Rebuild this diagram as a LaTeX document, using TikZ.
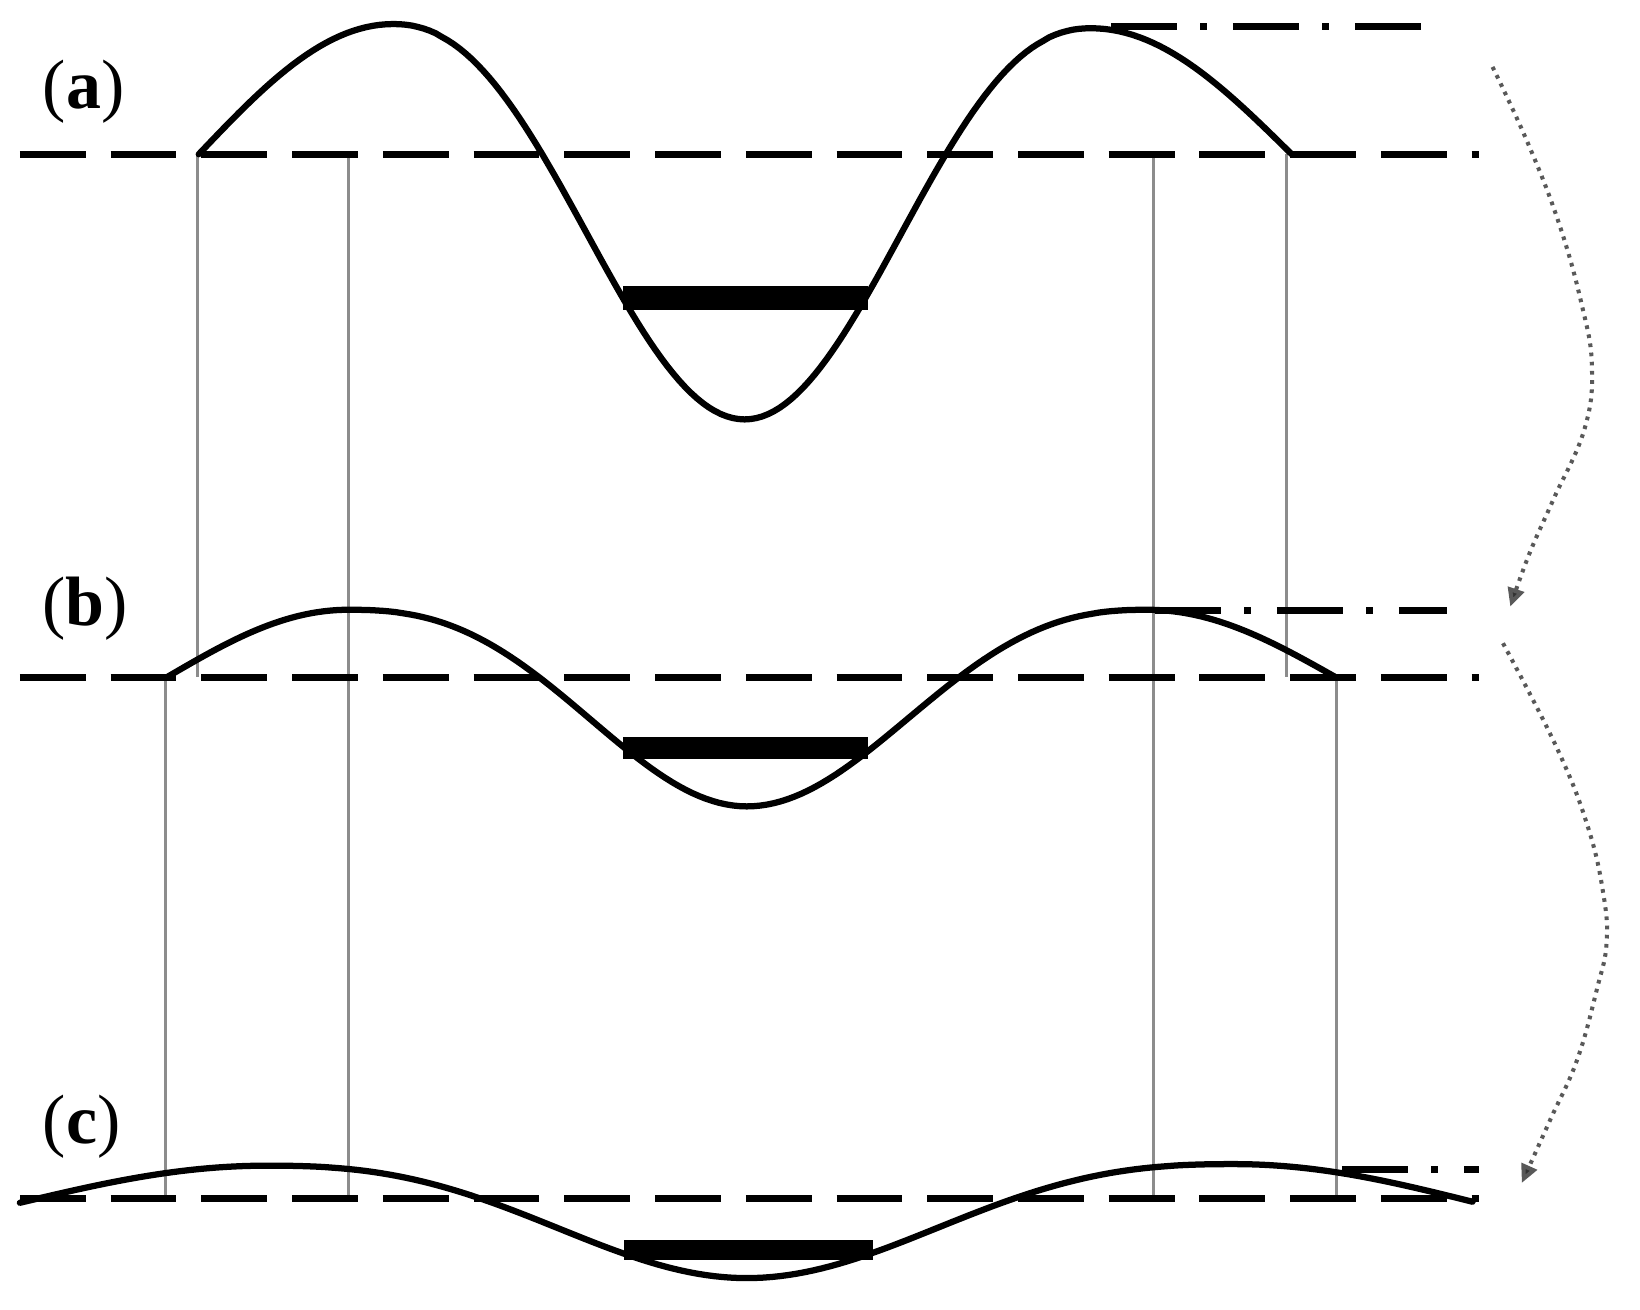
\documentclass[tikz,border=0pt]{standalone}
\usepackage{fontspec}
\setmainfont{Liberation Serif}
\usetikzlibrary{arrows.meta}
\begin{document}
\begin{tikzpicture}[x=0.01cm,y=-0.01cm,
  wave/.style={line width=1.7pt, line join=round, line cap=round},
  base/.style={line width=1.9pt, dash pattern=on 17.9pt off 6.77pt},
  peakline/.style={line width=1.9pt, dash pattern=on 17.9pt off 6.4pt on 1.8pt off 7.1pt},
  guide/.style={line width=0.8pt, draw=black!45},
  flow/.style={line width=1.1pt, draw=black!65, dash pattern=on 1pt off 1.5pt, -{Triangle[length=5pt,width=4.5pt,fill=black!80]}},
  lab/.style={anchor=base, inner sep=0pt, font=\fontsize{19}{19}\selectfont}
]
\useasboundingbox (0,0) rectangle (1568,1252);

% thin vertical guides
\draw[guide] (188.5,147.5) -- (188.5,647.5);
\draw[guide] (333,147.5) -- (333,1145.5);
\draw[guide] (1103,147.5) -- (1103,1145.5);
\draw[guide] (1230,147.5) -- (1230,647.5);
\draw[guide] (158,647.5) -- (158,1145.5);
\draw[guide] (1278,647.5) -- (1278,1145.5);

% dashed base lines
\draw[base] (19,147.5) -- (1414,147.5);
\draw[base] (19,647.5) -- (1414,647.5);
\draw[base] (19,1145.5) -- (1414,1145.5);

% dash-dot crest lines
\draw[peakline] (1062,25.5) -- (1362,25.5);
\draw[peakline] (1104,584) -- (1383,584);
\draw[peakline] (1283,1118.5) -- (1414,1118.5);

% thick bars
\fill (596,273) rectangle (830,296);
\fill (596,704.5) rectangle (830,726);
\fill (597,1186) rectangle (835,1205);

% wave (a)
\draw[wave]
  plot[domain=0:1, samples=30, variable=\t] ({190+186*\t}, {147.5-124.5*sin(90*\t)})
  -- plot[domain=0.002:1, samples=60, variable=\t] ({376+336*\t}, {23+378*(1-cos(180*pow(\t,1.1)))/2})
  -- plot[domain=0:0.998, samples=60, variable=\t] ({712+331*\t}, {27+374*(1-cos(180*pow(1-\t,1.1)))/2})
  -- plot[domain=0:1, samples=30, variable=\t] ({1043+192*\t}, {27+120.5*(1-cos(90*\t))});

% wave (b)
\draw[wave]
  plot[domain=0:1, samples=30, variable=\t] ({159.5+173.5*\t}, {647.5-64.5*sin(90*\t)})
  -- plot[domain=0.002:1, samples=60, variable=\t] ({333+381*\t}, {583+188*(1-cos(180*pow(\t,1.25)))/2})
  -- plot[domain=0:0.998, samples=60, variable=\t] ({714+383*\t}, {583+188*(1-cos(180*pow(1-\t,1.22)))/2})
  -- plot[domain=0:1, samples=30, variable=\t] ({1097+181*\t}, {583+65*(1-cos(90*\t))});

% wave (c)
\draw[wave]
  plot[domain=0:1, samples=30, variable=\t] ({19+236*\t}, {1150-35.5*sin(90*\t)})
  -- plot[domain=0.002:1, samples=60, variable=\t] ({255+459*\t}, {1114.5+107.5*(1-cos(180*pow(\t,1.25)))/2})
  -- plot[domain=0:0.998, samples=60, variable=\t] ({714+466*\t}, {1113+109*(1-cos(180*pow(1-\t,1.25)))/2})
  -- plot[domain=0:1, samples=30, variable=\t] ({1180+228*\t}, {1113+36*(1-cos(90*\t))});

% labels
\node[lab] (la) at (80,104) {(\textbf{a})};
\node[lab] (lb) at (81,598) {(\textbf{b})};
\node[lab] (lc) at (78,1093) {(\textbf{c})};

% dotted curved arrows
\coordinate (f1s) at (1427,64);
\coordinate (f1e) at (1444,580);
\coordinate (f2s) at (1437,615);
\coordinate (f2e) at (1455,1131);
\draw[flow] plot[smooth, tension=0.7] coordinates {(f1s) (1460,135) (1490,212) (1512,290) (1522,350) (1515,410) (1485,478) (1462,530) (f1e)};
\draw[flow] plot[smooth, tension=0.7] coordinates {(f2s) (1488,714) (1518,790) (1533,855) (1536,902) (1527,945) (1508,1013) (1482,1071) (f2e)};
\end{tikzpicture}
\end{document}
